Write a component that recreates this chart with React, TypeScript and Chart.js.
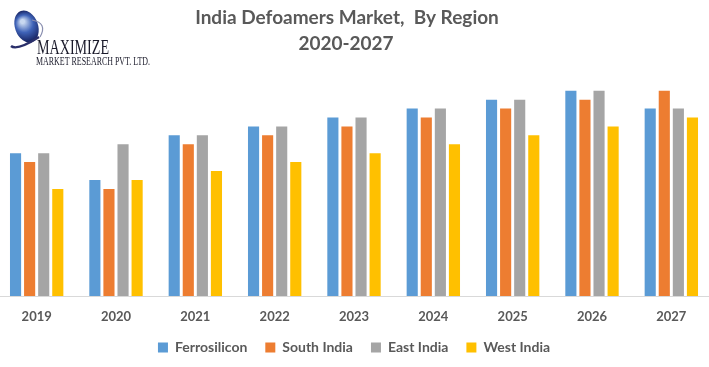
import React, { useEffect, useRef } from "react";
import { Chart, registerables } from "chart.js";

Chart.register(...registerables);

const categories = ["2019", "2020", "2021", "2022", "2023", "2024", "2025", "2026", "2027"];
const ferrosilicon = [16, 13, 18, 19, 20, 21, 22, 23, 21];
const southIndia = [15, 12, 17, 18, 19, 20, 21, 22, 23];
const eastIndia = [16, 17, 18, 19, 20, 21, 22, 23, 21];
const westIndia = [12, 13, 14, 15, 16, 17, 18, 19, 20];
const seriesNames = ["Ferrosilicon", "South India", "East India", "West India"];
const seriesColors = ["#5b9bd5", "#ed7d31", "#a5a5a5", "#ffc000"];
const titleLines = ["India Defoamers Market,  By Region", "2020-2027"];
const logoLines = ["MAXIMIZE", "MARKET RESEARCH PVT. LTD."];

const FONT = "Lato, 'Open Sans', sans-serif";

const decorPlugin = {
  id: "decor",
  afterDraw(chart: any) {
    const ctx = chart.ctx as CanvasRenderingContext2D;
    ctx.save();
    // Title
    ctx.fillStyle = "#595959";
    ctx.textAlign = "center";
    ctx.textBaseline = "alphabetic";
    ctx.font = `bold 19px ${FONT}`;
    ctx.fillText(titleLines[0], 350, 24);
    ctx.fillText(titleLines[1], 349, 50);

    // Logo globe
    const gx = 29.5, gy = 26.5;
    const grad = ctx.createRadialGradient(gx - 4, gy - 5, 2, gx, gy, 17);
    grad.addColorStop(0, "#c8d8f0");
    grad.addColorStop(0.45, "#3f63b8");
    grad.addColorStop(1, "#111a55");
    ctx.fillStyle = grad;
    ctx.beginPath();
    ctx.ellipse(gx, gy, 11.5, 16.5, -0.35, 0, Math.PI * 2);
    ctx.fill();
    // swoosh
    ctx.strokeStyle = "#2a2f6a";
    ctx.lineWidth = 2.5;
    ctx.beginPath();
    ctx.moveTo(14, 46);
    ctx.quadraticCurveTo(20, 51, 42, 37);
    ctx.stroke();
    ctx.strokeStyle = "#8a8fb0";
    ctx.lineWidth = 1.2;
    ctx.beginPath();
    ctx.moveTo(35, 20);
    ctx.quadraticCurveTo(51, 23, 43, 37);
    ctx.stroke();

    // Logo text
    ctx.fillStyle = "#1a1a2a";
    ctx.textAlign = "left";
    const drawFit = (text: string, x: number, y: number, size: number, w: number) => {
      ctx.font = `${size}px 'Liberation Serif', 'DejaVu Serif', serif`;
      const m = ctx.measureText(text).width;
      ctx.save();
      ctx.translate(x, y);
      ctx.scale(w / m, 1);
      ctx.fillText(text, 0, 0);
      ctx.restore();
    };
    drawFit(logoLines[0], 40, 54, 21, 72);
    drawFit(logoLines[1], 39, 65, 12, 114);
    ctx.restore();
  },
};

export default function App() {
  const ref = useRef<HTMLCanvasElement | null>(null);
  useEffect(() => {
    if (!ref.current) return;
    const data = [ferrosilicon, southIndia, eastIndia, westIndia];
    const chart = new Chart(ref.current, {
      type: "bar",
      data: {
        labels: categories,
        datasets: seriesNames.map((n, i) => ({
          label: n,
          data: data[i],
          backgroundColor: seriesColors[i],
          borderWidth: 0,
          categoryPercentage: 0.71,
          barPercentage: 0.79,
        })),
      },
      options: {
        animation: false,
        responsive: false,
        layout: { padding: { top: 80, bottom: 2.5, left: 0, right: 0 } },
        plugins: {
          title: { display: false },
          tooltip: { enabled: false },
          legend: {
            position: "bottom",
            labels: {
              boxWidth: 10,
              boxHeight: 10,
              padding: 18,
              color: "#595959",
              font: { family: FONT, size: 14, weight: "bold" },
            },
          },
        },
        scales: {
          x: {
            grid: { display: false, drawTicks: false },
            border: { display: true, color: "#d9d9d9", width: 1 },
            ticks: {
              padding: 13,
              color: "#595959",
              font: { family: FONT, size: 13, weight: "bold" },
            },
            afterFit: (scale: any) => {
              scale.height = 26.5;
            },
          },
          y: {
            display: false,
            min: 0,
            max: 24.2,
          },
        },
      },
      plugins: [decorPlugin],
    } as any);
    return () => chart.destroy();
  }, []);
  return (
    <div style={{ position: "absolute", left: -3, top: 0, width: 714, height: 367 }}>
      <canvas ref={ref} width={714} height={367} style={{ display: "block" }} />
    </div>
  );
}
